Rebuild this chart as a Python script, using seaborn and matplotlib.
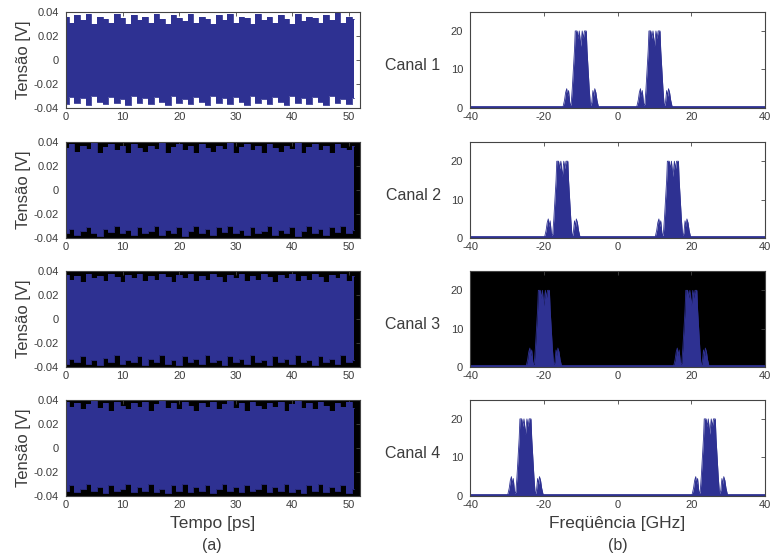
import pandas as pd
import matplotlib
matplotlib.use("Agg")
import matplotlib.pyplot as plt
import seaborn as sns

sns.set_style("white")
plt.rcParams['font.family'] = ['Liberation Sans', 'DejaVu Sans']
plt.rcParams['axes.unicode_minus'] = False

# time axis samples [ps]
tempo = [0, 1, 2, 3, 4, 5, 6, 7, 8, 9, 10, 11, 12, 13, 14, 15, 16, 17, 18, 19, 20, 21, 22, 23, 24,
         25, 26, 27, 28, 29, 30, 31, 32, 33, 34, 35, 36, 37, 38, 39, 40, 41, 42, 43, 44, 45, 46, 47,
         48, 49, 50, 51]

# upper / lower envelopes of the time signals [V], one per channel
sup_c1 = [0.036, 0.031, 0.037, 0.033, 0.038, 0.030, 0.036, 0.034, 0.031, 0.038, 0.035, 0.030, 0.037,
          0.033, 0.036, 0.031, 0.038, 0.034, 0.030, 0.037, 0.035, 0.032, 0.038, 0.031, 0.036, 0.034,
          0.030, 0.037, 0.033, 0.038, 0.031, 0.036, 0.035, 0.030, 0.038, 0.033, 0.036, 0.031, 0.037,
          0.034, 0.030, 0.038, 0.032, 0.036, 0.035, 0.031, 0.037, 0.033, 0.039, 0.031, 0.036, 0.034]
inf_c1 = [-0.037, -0.031, -0.036, -0.032, -0.038, -0.030, -0.035, -0.037, -0.031, -0.036, -0.033, -0.038,
          -0.030, -0.036, -0.032, -0.037, -0.031, -0.035, -0.038, -0.030, -0.036, -0.033, -0.037, -0.031,
          -0.035, -0.038, -0.030, -0.036, -0.032, -0.037, -0.031, -0.035, -0.038, -0.030, -0.036, -0.033,
          -0.037, -0.031, -0.035, -0.038, -0.030, -0.036, -0.032, -0.037, -0.031, -0.035, -0.038, -0.030,
          -0.036, -0.033, -0.037, -0.032]
sup_c2 = [0.035, 0.038, 0.032, 0.037, 0.034, 0.039, 0.031, 0.036, 0.038, 0.033, 0.037, 0.031, 0.038,
          0.035, 0.032, 0.037, 0.034, 0.039, 0.031, 0.036, 0.038, 0.033, 0.037, 0.031, 0.038, 0.035,
          0.032, 0.037, 0.034, 0.039, 0.031, 0.036, 0.038, 0.033, 0.037, 0.031, 0.038, 0.035, 0.032,
          0.037, 0.034, 0.039, 0.031, 0.036, 0.038, 0.033, 0.037, 0.031, 0.038, 0.035, 0.033, 0.037]
inf_c2 = [-0.036, -0.032, -0.037, -0.034, -0.031, -0.036, -0.038, -0.032, -0.035, -0.030, -0.036, -0.033,
          -0.037, -0.031, -0.036, -0.034, -0.030, -0.037, -0.033, -0.036, -0.031, -0.038, -0.034, -0.030,
          -0.036, -0.032, -0.037, -0.031, -0.035, -0.030, -0.036, -0.033, -0.037, -0.031, -0.036, -0.034,
          -0.030, -0.037, -0.033, -0.036, -0.031, -0.038, -0.034, -0.030, -0.036, -0.032, -0.037, -0.031,
          -0.035, -0.030, -0.036, -0.033]
sup_c3 = [0.037, 0.033, 0.036, 0.031, 0.038, 0.034, 0.036, 0.032, 0.038, 0.035, 0.031, 0.037, 0.034,
          0.038, 0.032, 0.036, 0.033, 0.038, 0.035, 0.031, 0.037, 0.034, 0.038, 0.032, 0.036, 0.033,
          0.038, 0.035, 0.031, 0.037, 0.034, 0.038, 0.032, 0.036, 0.033, 0.038, 0.035, 0.031, 0.037,
          0.034, 0.038, 0.032, 0.036, 0.033, 0.038, 0.035, 0.031, 0.037, 0.034, 0.038, 0.032, 0.036]
inf_c3 = [-0.037, -0.033, -0.036, -0.031, -0.037, -0.034, -0.038, -0.032, -0.036, -0.030, -0.037, -0.034,
          -0.036, -0.031, -0.038, -0.033, -0.036, -0.030, -0.037, -0.034, -0.038, -0.031, -0.036, -0.033,
          -0.037, -0.030, -0.036, -0.034, -0.038, -0.031, -0.036, -0.033, -0.037, -0.030, -0.036, -0.034,
          -0.038, -0.031, -0.036, -0.033, -0.037, -0.030, -0.036, -0.034, -0.038, -0.031, -0.036, -0.033,
          -0.037, -0.030, -0.036, -0.034]
sup_c4 = [0.038, 0.034, 0.037, 0.032, 0.036, 0.039, 0.033, 0.037, 0.031, 0.038, 0.035, 0.032, 0.037,
          0.034, 0.038, 0.031, 0.036, 0.039, 0.033, 0.037, 0.032, 0.038, 0.035, 0.031, 0.037, 0.034,
          0.038, 0.032, 0.036, 0.039, 0.033, 0.037, 0.031, 0.038, 0.035, 0.032, 0.037, 0.034, 0.038,
          0.031, 0.036, 0.039, 0.033, 0.037, 0.032, 0.038, 0.035, 0.031, 0.037, 0.034, 0.038, 0.033]
inf_c4 = [-0.036, -0.031, -0.037, -0.034, -0.030, -0.036, -0.033, -0.038, -0.031, -0.036, -0.034, -0.030,
          -0.037, -0.033, -0.036, -0.030, -0.037, -0.034, -0.038, -0.031, -0.036, -0.030, -0.037, -0.033,
          -0.036, -0.031, -0.038, -0.034, -0.030, -0.036, -0.033, -0.037, -0.031, -0.036, -0.034, -0.030,
          -0.037, -0.033, -0.036, -0.030, -0.037, -0.034, -0.038, -0.031, -0.036, -0.030, -0.037, -0.033,
          -0.036, -0.031, -0.038, -0.034]

# spectra: carrier frequency of each channel [GHz] and the lobe profile around it
portadoras = [10, 15, 20, 25]
desvio = [-4.8, -4.4, -4.1, -3.8, -3.6, -3.3, -3.0, -2.8, -2.6, -2.3, -2.0, -1.7, -1.5,
          -1.0, -0.7, -0.4, 0.0, 0.4, 0.7, 1.0, 1.5, 1.7, 2.0, 2.3, 2.6, 2.8, 3.0, 3.3,
          3.6, 3.8, 4.1, 4.4, 4.8]
amplitude = [0.3, 2.0, 4.0, 5.0, 3.0, 4.5, 1.5, 0.6, 1.0, 5.0, 10.0, 15.0, 20.0,
             20.0, 18.0, 20.0, 16.0, 20.0, 18.0, 20.0, 20.0, 15.0, 10.0, 5.0, 1.0, 0.6, 1.5, 4.5,
             3.0, 5.0, 4.0, 2.0, 0.3]
piso = 0.3

canais = ["Canal 1", "Canal 2", "Canal 3", "Canal 4"]
envelopes = [(sup_c1, inf_c1), (sup_c2, inf_c2), (sup_c3, inf_c3), (sup_c4, inf_c4)]
fundo_tempo = ["white", "black", "black", "black"]
fundo_freq = ["white", "white", "black", "white"]

azul = "#2e3192"
cinza = "#3c3c3c"

fig = plt.figure(figsize=(7.72, 5.59), dpi=100)
baixo = [0.807, 0.574, 0.343, 0.113]
altura = 0.172


def estilo(ax):
    for s in ax.spines.values():
        s.set_color("#444444")
        s.set_linewidth(0.8)
    ax.tick_params(direction="in", length=3, width=0.6, labelsize=8,
                   colors="#444444", labelcolor=cinza, top=True, right=True)
    ax.tick_params(axis="x", pad=3)
    ax.tick_params(axis="y", pad=5)


for i in range(4):
    # --- time domain ---
    ax = fig.add_axes([0.0855, baixo[i], 0.381, altura])
    ax.set_facecolor(fundo_tempo[i])
    sup, inf = envelopes[i]
    df = pd.DataFrame({"t": tempo, "sup": sup, "inf": inf})
    ax.fill_between(df["t"], df["inf"], df["sup"], step="mid", color=azul, lw=0)
    sns.lineplot(data=df, x="t", y="sup", ax=ax, color=azul, lw=0.6, drawstyle="steps-mid")
    sns.lineplot(data=df, x="t", y="inf", ax=ax, color=azul, lw=0.6, drawstyle="steps-mid")
    ax.set_xlim(0, 52)
    ax.set_ylim(-0.04, 0.04)
    ax.set_xticks([0, 10, 20, 30, 40, 50])
    ax.set_yticks([-0.04, -0.02, 0, 0.02, 0.04])
    ax.set_yticklabels(["-0.04", "-0.02", "0", "0.02", "0.04"])
    ax.set_xlabel("")
    ax.set_ylabel("Tensão [V]", fontsize=12, color=cinza, labelpad=2)
    estilo(ax)

    # --- frequency domain ---
    axf = fig.add_axes([0.609, baixo[i], 0.382, altura])
    axf.set_facecolor(fundo_freq[i])
    fc = portadoras[i]
    sns.lineplot(x=[-40, 40], y=[piso, piso], ax=axf, color=azul, lw=2)
    for centro in (-fc, fc):
        f = [centro + d for d in desvio]
        axf.fill_between(f, 0, amplitude, color=azul, lw=0)
        sns.lineplot(x=f, y=amplitude, ax=axf, color=azul, lw=0.6, sort=False)
    axf.set_xlim(-40, 40)
    axf.set_ylim(0, 25)
    axf.set_xticks([-40, -20, 0, 20, 40])
    axf.set_yticks([0, 10, 20])
    estilo(axf)

    fig.text(0.535, baixo[i] + altura * 0.44, canais[i], ha="center", va="center",
             fontsize=11.5, color=cinza)

fig.text(0.275, 0.064, "Tempo [ps]", ha="center", va="center", fontsize=12.5, color=cinza)
fig.text(0.275, 0.025, "(a)", ha="center", va="center", fontsize=11.5, color=cinza)
fig.text(0.80, 0.064, "Freqüência [GHz]", ha="center", va="center", fontsize=12.5, color=cinza)
fig.text(0.80, 0.025, "(b)", ha="center", va="center", fontsize=11.5, color=cinza)

fig.savefig("out.png", dpi=100)
